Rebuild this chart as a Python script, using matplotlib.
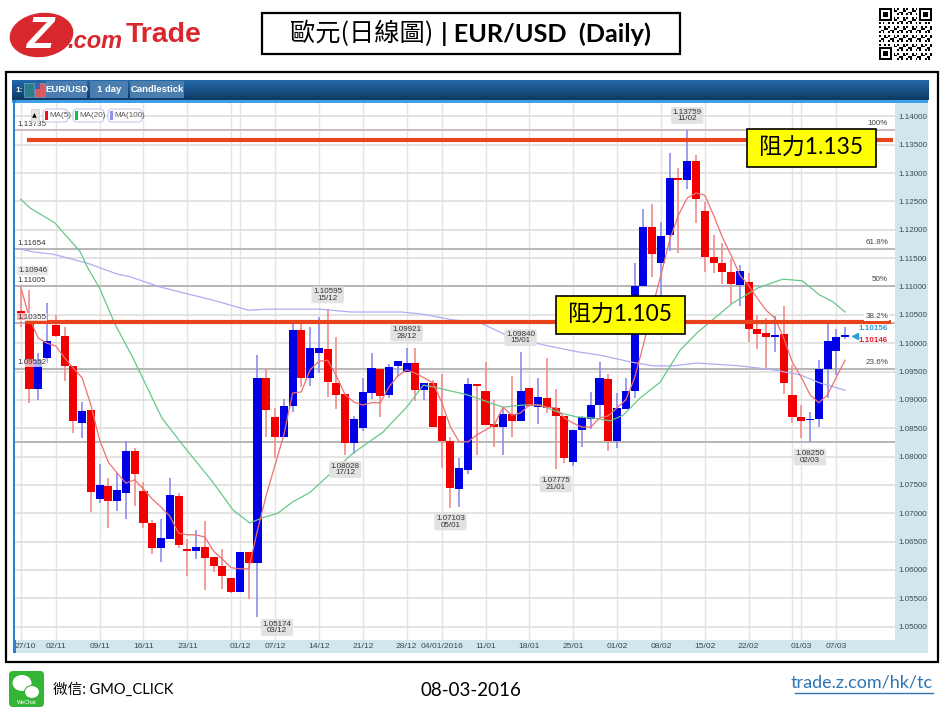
from matplotlib import pyplot as plt
from matplotlib.patches import Rectangle, FancyBboxPatch, Ellipse
from matplotlib.colors import LinearSegmentedColormap
from matplotlib.transforms import ScaledTranslation
import numpy as np

plt.rcParams['font.family'] = ['Liberation Sans', 'Noto Sans CJK TC', 'DejaVu Sans']

# daily candles, index 0 is 27/10
opens = [1.1056, 1.1041, 1.0919, 1.0974, 1.1032, 1.1013, 1.0960, 1.0860, 1.0882, 1.0725,
         1.0748, 1.0722, 1.0736, 1.0810, 1.0739, 1.0683, 1.0639, 1.0655, 1.0730, 1.0637,
         1.0633, 1.0640, 1.0623, 1.0607, 1.0586, 1.0561, 1.0632, 1.0612, 1.0939, 1.0870,
         1.0834, 1.0889, 1.1023, 1.0939, 1.0983, 1.0990, 1.0930, 1.0911, 1.0824, 1.0850,
         1.0912, 1.0954, 1.0909, 1.0960, 1.0949, 1.0965, 1.0917, 1.0930, 1.0872, 1.0827,
         1.0743, 1.0776, 1.0928, 1.0916, 1.0858, 1.0852, 1.0875, 1.0863, 1.0921, 1.0887,
         1.0903, 1.0886, 1.0872, 1.0790, 1.0847, 1.0866, 1.0891, 1.0937, 1.0827, 1.0884,
         1.0916, 1.1101, 1.1205, 1.1141, 1.1191, 1.1291, 1.1288, 1.1321, 1.1233, 1.1152,
         1.1141, 1.1125, 1.1102, 1.1108, 1.1025, 1.1018, 1.1011, 1.1016, 1.0909, 1.0870,
         1.0864, 1.0866, 1.0955, 1.0986, 1.1011]
highs = [1.1095, 1.1094, 1.0983, 1.1071, 1.1050, 1.1028, 1.0960, 1.0896, 1.0882, 1.0787,
         1.0762, 1.0771, 1.0827, 1.0815, 1.0755, 1.0688, 1.0690, 1.0762, 1.0736, 1.0655,
         1.0670, 1.0686, 1.0623, 1.0637, 1.0586, 1.0632, 1.0632, 1.0979, 1.0954, 1.0886,
         1.0902, 1.1041, 1.1035, 1.1028, 1.1046, 1.1060, 1.1011, 1.0911, 1.0872, 1.0939,
         1.0983, 1.0954, 1.0963, 1.0968, 1.0992, 1.0992, 1.0930, 1.0935, 1.0945, 1.0834,
         1.0798, 1.0939, 1.0928, 1.0966, 1.0900, 1.0887, 1.0942, 1.0984, 1.0921, 1.0939,
         1.0974, 1.0919, 1.0872, 1.0847, 1.0872, 1.0914, 1.0966, 1.0945, 1.0912, 1.0939,
         1.1141, 1.1237, 1.1246, 1.1214, 1.1336, 1.1309, 1.1376, 1.1332, 1.1249, 1.1191,
         1.1177, 1.1148, 1.1138, 1.1124, 1.1050, 1.1044, 1.1048, 1.1065, 1.0961, 1.0891,
         1.0879, 1.0970, 1.1041, 1.1025, 1.1028]
lows = [1.1028, 1.0895, 1.0900, 1.0965, 1.1011, 1.0933, 1.0841, 1.0833, 1.0702, 1.0718,
        1.0674, 1.0704, 1.0690, 1.0713, 1.0674, 1.0628, 1.0614, 1.0655, 1.0639, 1.0589,
        1.0619, 1.0565, 1.0596, 1.0566, 1.0559, 1.0561, 1.0549, 1.0517, 1.0834, 1.0797,
        1.0834, 1.0879, 1.0923, 1.0925, 1.0948, 1.0905, 1.0884, 1.0803, 1.0805, 1.0845,
        1.0902, 1.0870, 1.0903, 1.0942, 1.0949, 1.0898, 1.0900, 1.0852, 1.0780, 1.0710,
        1.0711, 1.0769, 1.0803, 1.0856, 1.0817, 1.0803, 1.0834, 1.0863, 1.0887, 1.0858,
        1.0877, 1.0778, 1.0789, 1.0783, 1.0817, 1.0849, 1.0870, 1.0810, 1.0815, 1.0884,
        1.0903, 1.1101, 1.1117, 1.1071, 1.1162, 1.1159, 1.1272, 1.1212, 1.1125, 1.1124,
        1.1104, 1.1069, 1.1065, 1.1002, 1.0990, 1.0956, 1.0985, 1.0911, 1.0859, 1.0833,
        1.0825, 1.0852, 1.0903, 1.0944, 1.1007]
closes = [1.1041, 1.0919, 1.0970, 1.1004, 1.1013, 1.0960, 1.0863, 1.0881, 1.0737, 1.0750,
          1.0722, 1.0741, 1.0810, 1.0769, 1.0683, 1.0639, 1.0656, 1.0732, 1.0644, 1.0633,
          1.0640, 1.0621, 1.0607, 1.0589, 1.0561, 1.0632, 1.0612, 1.0939, 1.0882, 1.0834,
          1.0889, 1.1023, 1.0939, 1.0992, 1.0992, 1.0932, 1.0909, 1.0824, 1.0866, 1.0914,
          1.0956, 1.0907, 1.0958, 1.0968, 1.0965, 1.0917, 1.0930, 1.0852, 1.0827, 1.0745,
          1.0780, 1.0928, 1.0925, 1.0856, 1.0852, 1.0875, 1.0863, 1.0916, 1.0889, 1.0905,
          1.0886, 1.0872, 1.0797, 1.0847, 1.0870, 1.0891, 1.0939, 1.0827, 1.0886, 1.0916,
          1.1101, 1.1205, 1.1157, 1.1189, 1.1291, 1.1288, 1.1321, 1.1254, 1.1152, 1.1141,
          1.1125, 1.1104, 1.1127, 1.1025, 1.1016, 1.1011, 1.1015, 1.0930, 1.0870, 1.0863,
          1.0866, 1.0955, 1.1004, 1.1011, 1.1014]

ma5 = [1.1099, 1.1044, 1.1009, 1.1000, 1.0995, 1.0974, 1.0956, 1.0939, 1.0891, 1.0829,
       1.0790, 1.0771, 1.0753, 1.0759, 1.0743, 1.0725, 1.0711, 1.0695, 1.0665, 1.0662,
       1.0662, 1.0658, 1.0633, 1.0619, 1.0604, 1.0602, 1.0602, 1.0670, 1.0732, 1.0785,
       1.0838, 1.0912, 1.0914, 1.0953, 1.0968, 1.0970, 1.0942, 1.0909, 1.0896, 1.0891,
       1.0895, 1.0895, 1.0923, 1.0942, 1.0953, 1.0947, 1.0939, 1.0930, 1.0896, 1.0852,
       1.0826, 1.0826, 1.0838, 1.0847, 1.0856, 1.0887, 1.0873, 1.0877, 1.0891, 1.0891,
       1.0887, 1.0886, 1.0868, 1.0859, 1.0852, 1.0852, 1.0868, 1.0872, 1.0886, 1.0900,
       1.0939, 1.0997, 1.1062, 1.1120, 1.1182, 1.1226, 1.1256, 1.1265, 1.1261, 1.1226,
       1.1187, 1.1155, 1.1120, 1.1102, 1.1079, 1.1058, 1.1044, 1.1009, 1.0966, 1.0940,
       1.0909, 1.0895, 1.0909, 1.0940, 1.0970]

ma20_idx = [0, 1.1, 3.9, 6.8, 7.6, 9, 10.8, 12.8, 16.1, 18.5,
            21.9, 24.2, 26.1, 27.6, 29.3, 31, 33, 34.9, 37.9, 41.3,
            44, 45.9, 47, 50.9, 53.5, 55, 57.3, 59.2, 61.5, 63.4,
            65.3, 67.2, 68.7, 70.6, 72.9, 75.2, 77.1, 81.2, 84, 86.9,
            89.1, 91.1, 92.6, 94]
ma20 = [1.1254, 1.1238, 1.1212, 1.1161, 1.1134, 1.1097, 1.1032, 1.0974, 1.0868, 1.0820,
        1.0755, 1.0706, 1.0683, 1.0692, 1.0700, 1.0720, 1.0737, 1.0764, 1.0806, 1.0843,
        1.0887, 1.0926, 1.0923, 1.0909, 1.0895, 1.0887, 1.0891, 1.0891, 1.0877, 1.0870,
        1.0868, 1.0863, 1.0873, 1.0903, 1.0931, 1.0988, 1.1018, 1.1071, 1.1097, 1.1113,
        1.1110, 1.1085, 1.1073, 1.1055]

ma100_idx = [0, 1.4, 3.7, 7.6, 11, 12.5, 15.9, 19, 21.9, 26,
             28.1, 34.1, 37.7, 43.4, 45.9, 49.3, 52.4, 55.8, 59.6, 63.4,
             66, 69.5, 72.1, 74.4, 77.1, 82, 85.8, 88.9, 91.1, 94]
ma100 = [1.1166, 1.1161, 1.1157, 1.1141, 1.1122, 1.1117, 1.1099, 1.1087, 1.1076, 1.1058,
         1.1060, 1.1060, 1.1055, 1.1055, 1.1051, 1.1041, 1.1036, 1.1011, 1.0997, 1.0985,
         1.0979, 1.0967, 1.0960, 1.0960, 1.0965, 1.0960, 1.0953, 1.0944, 1.0930, 1.0917]

date_idx = [0, 4, 9, 14, 19, 24, 25, 29, 34, 39, 44, 48, 53, 58, 63, 68, 73, 78, 83, 88, 89, 93]
date_labels = ['27/10', '02/11', '09/11', '16/11', '23/11', '', '01/12', '07/12', '14/12', '21/12',
               '28/12', '04/01/2016', '11/01', '18/01', '25/01', '01/02', '08/02', '15/02',
               '22/02', '', '01/03', '07/03']
price_ticks = [1.05, 1.055, 1.06, 1.065, 1.07, 1.075, 1.08, 1.085, 1.09, 1.095,
               1.10, 1.105, 1.11, 1.115, 1.12, 1.125, 1.13, 1.135, 1.14]

fib_levels = [1.13759, 1.11654, 1.11005, 1.10355, 1.09552]
fib_left = ['1.13735', '1.11654', '1.11005', '1.10355', '1.09552']
fib_right = ['100%', '61.8%', '50%', '38.2%', '23.6%']
low_level = 1.0825

resist_levels = [1.1358, 1.1037]
resist_labels = ['1.135', '1.105']

callout_idx = [76, 35, 44, 57, 37, 49, 61, 90]
callout_price = [1.13759, 1.10595, 1.09921, 1.09840, 1.08028, 1.07103, 1.07775, 1.08250]
callout_date = ['11/02', '15/12', '28/12', '15/01', '17/12', '05/01', '21/01', '02/03']

C_RED = '#f20000'
C_BLUE = '#0000e6'
W, H = 946, 711
SMALL = 5.8


def px_axes(zorder):
    # full figure axes in reference pixels, for the page furniture
    a = fig.add_axes([0, 0, 1, 1], zorder=zorder)
    a.set_xlim(0, W)
    a.set_ylim(H, 0)
    a.axis('off')
    return a


fig = plt.figure(figsize=(W / 100, H / 100), dpi=100, facecolor='white')
bg = px_axes(0)
fg = px_axes(5)

# frame and chart window
bg.add_patch(Rectangle((5.5, 71.5), 932, 590.5, fc='white', ec='black', lw=1.6))
head_cmap = LinearSegmentedColormap.from_list('head', ['#2468a8', '#0e3a64'])
grad = np.linspace(0, 1, 20).reshape(-1, 1)
bg.imshow(grad, extent=(12, 928, 100, 80), aspect='auto', cmap=head_cmap, zorder=1)
bg.set_xlim(0, W)
bg.set_ylim(H, 0)
bg.add_patch(Rectangle((12, 100), 916, 3, fc='#3f9fe8', ec='none', zorder=2))
bg.add_patch(Rectangle((13, 100), 2.5, 553, fc='#2f80d8', ec='none', zorder=2))
bg.add_patch(Rectangle((15, 103), 913, 550, fc='#d0e8ec', ec='none', zorder=1.5))

# window tabs
bg.text(15, 90, '1:', color='white', fontsize=6, fontweight='bold', va='center', zorder=3)
bg.add_patch(Rectangle((24, 83), 10, 14, fc='#2a7d8c', ec='#6fa8c8', lw=0.5, zorder=3))
bg.add_patch(Rectangle((35, 83), 10, 14, fc='#d85a60', ec='#6fa8c8', lw=0.5, zorder=3))
bg.add_patch(Rectangle((35, 83), 5, 6, fc='#4060b0', ec='none', zorder=3))
for tab_x, tab_w, tab_text in [(46, 41, 'EUR/USD'), (90, 38, '1 day'), (130, 54, 'Candlestick')]:
    bg.add_patch(Rectangle((tab_x, 81), tab_w, 17, fc='#4a7eae', ec='none', zorder=2.5))
    bg.text(tab_x + tab_w / 2, 89.5, tab_text, color='white', fontsize=6.8, fontweight='bold',
            ha='center', va='center', zorder=3)

ax = fig.add_axes([15 / W, 1 - 640 / H, 880 / W, 537 / H], zorder=2, facecolor='white')
ax.set_xlim(-0.65, 99.69)
ax.set_ylim(1.04765, 1.14236)
ax.set_axisbelow(True)
ax.grid(True, axis='y', color='#dedede', lw=1.2)
ax.grid(True, axis='x', color='#e4e4e4', lw=1.0)
for s in ax.spines.values():
    s.set_visible(False)
ax.yaxis.tick_right()
ax.set_yticks(price_ticks)
ax.set_yticklabels(['%.5f' % p for p in price_ticks])
ax.set_xticks(date_idx)
ax.set_xticklabels(date_labels)
ax.tick_params(axis='y', length=0, pad=2.5, labelsize=SMALL, labelcolor='#3a4a50')
ax.tick_params(axis='x', length=0, pad=2.5, labelsize=SMALL + 0.3, labelcolor='#3a4a50')
first = ax.get_xticklabels()[0]
first.set_transform(first.get_transform() + ScaledTranslation(3.5 / 72, 0, fig.dpi_scale_trans))

# fibonacci levels
for k, lvl in enumerate(fib_levels):
    ax.axhline(lvl, color='#c9bcc9' if k == 0 else '#b6b6b6', lw=1.4, zorder=1.5)
    ax.text(-0.42, lvl + 0.00105, fib_left[k], fontsize=SMALL, color='#333333', va='center', zorder=6,
            bbox=dict(fc='white', ec='none', alpha=0.7, pad=0.4))
    ax.text(98.9, lvl + 0.00115, fib_right[k], fontsize=SMALL, color='#444444', va='center', ha='right',
            zorder=6, bbox=dict(fc='white', ec='none', pad=0.8))
ax.axhline(low_level, color='#b6b6b6', lw=1.4, zorder=1.5)
ax.annotate('1.10946', xy=(-0.3, highs[0]), xytext=(0, 13.4), textcoords='offset points', fontsize=SMALL,
            color='#333333', va='center', zorder=6,
            bbox=dict(boxstyle='round,pad=0.15', fc='#e6e6e6', ec='none', alpha=0.9))

# candles
idx = np.arange(len(opens))
o = np.array(opens)
c = np.array(closes)
up = c >= o
ax.vlines(idx[up], np.array(lows)[up], np.array(highs)[up], color='#8c8cf0', lw=1.2, zorder=2)
ax.vlines(idx[~up], np.array(lows)[~up], np.array(highs)[~up], color='#f58a8a', lw=1.2, zorder=2)
ax.bar(idx[up], (c - o)[up], bottom=o[up], width=0.92, color=C_BLUE, zorder=3)
ax.bar(idx[~up], (o - c)[~up], bottom=c[~up], width=0.92, color=C_RED, zorder=3)

# moving averages
ax.plot(ma100_idx, ma100, color='#aeaef4', lw=0.9, zorder=4)
ax.plot(ma20_idx, ma20, color='#68c888', lw=0.9, zorder=4)
ax.plot(idx, ma5, color='#ee7070', lw=0.9, zorder=4)

# resistance lines
ax.plot([0.7, 99.5], [resist_levels[0]] * 2, color='#e8431a', lw=3.0, zorder=5, solid_capstyle='butt')
ax.plot([0.5, 99.2], [resist_levels[1]] * 2, color='#e8431a', lw=3.0, zorder=5, solid_capstyle='butt')

# high / low callouts
box = dict(boxstyle='round,pad=0.2', fc='#e2e2e2', ec='none')
for i, p, d in zip(callout_idx, callout_price, callout_date):
    above = p > opens[i] and p > closes[i]
    ax.annotate('%.5f\n%s' % (p, d), xy=(i, p), xytext=(0, 10.5 if above else -10.5),
                textcoords='offset points', ha='center', va='center', fontsize=SMALL, color='#333333',
                linespacing=0.9, bbox=box, zorder=6)
ax.annotate('1.05174\n03/12', xy=(27, lows[27]), xytext=(14, -7.5), textcoords='offset points',
            ha='center', va='center', fontsize=SMALL, color='#333333', linespacing=0.9, bbox=box, zorder=6)

# current bid / ask
ax.plot([95.1], [1.1012], marker='<', ms=4.5, color='#2a9fd6', zorder=6)
ax.annotate('1.10156', xy=(98.9, 1.10156), xytext=(0, 4), textcoords='offset points', ha='right',
            va='center', fontsize=SMALL, fontweight='bold', color='#2a9fd6', zorder=6)
ax.annotate('1.10146', xy=(98.9, 1.10146), xytext=(0, -4), textcoords='offset points', ha='right',
            va='center', fontsize=SMALL, fontweight='bold', color='#e8202a', zorder=6)

# MA legend chips
fg.add_patch(Rectangle((31, 109), 7.5, 13, fc='#e6e6e6', ec='#cccccc', lw=0.5))
fg.text(34.8, 115.5, '▲', fontsize=4.5, ha='center', va='center', color='black', family='DejaVu Sans')
for chip_x, chip_w, chip_col, chip_text in [(42, 27, '#f01010', 'MA(5)'), (72, 33, '#10c040', 'MA(20)'),
                                            (107, 36, '#9090f0', 'MA(100)')]:
    fg.add_patch(FancyBboxPatch((chip_x + 1, 109), chip_w - 2, 13, boxstyle='round,pad=0,rounding_size=4',
                                fc='white', ec='#c4cce8', lw=0.8))
    fg.add_patch(Rectangle((chip_x + 2.5, 111), 3.5, 9, fc=chip_col, ec='none'))
    fg.text(chip_x + 7, 115.5, chip_text, fontsize=SMALL, color='#555555', va='center')

# yellow resistance boxes
for (bx, by), lab in zip([(747, 128.5), (555.5, 295.5)], resist_labels):
    fg.add_patch(Rectangle((bx, by), 129, 38.5, fc='#ffff00', ec='black', lw=1.2))
    fg.text(bx + 64.5, by + 20, '阻力' + lab, fontsize=16.5, ha='center', va='center', color='black',
            family=['Lato', 'Noto Sans CJK TC'])

# title
fg.add_patch(Rectangle((262, 12.5), 418, 41, fc='white', ec='black', lw=1.6))
fg.text(290, 33.5, '歐元(日線圖)', fontsize=18.2, va='center', color='black', family=['Noto Sans CJK TC'])
fg.text(441, 33.5, '| EUR/USD  (Daily)', fontsize=18.2, va='center', fontweight='bold', color='black',
        family=['Lato', 'Noto Sans CJK TC'])

# Z.com logo
fg.add_patch(Ellipse((41.5, 35), 64, 44, angle=-8, fc='#d9272e', ec='none'))
fg.text(40, 36, 'Z', fontsize=32, fontweight='bold', style='italic', color='white', ha='center', va='center')
fg.text(67, 41, '.com', fontsize=17, fontweight='bold', style='italic', color='#d9272e', va='center')
fg.text(126, 35.5, 'Trade', fontsize=20.5, fontweight='bold', color='#d9272e', va='center')

# QR code block, only a look-alike pattern
qr_size = 29
qr = np.zeros((qr_size, qr_size))
for r in range(qr_size):
    for q in range(qr_size):
        qr[r, q] = (r * r * 3 + q * q * 5 + r * q * 7 + r + 2 * q) % 5 < 2
for r0, q0 in [(0, 0), (0, qr_size - 7), (qr_size - 7, 0)]:
    qr[max(r0 - 1, 0):r0 + 8, max(q0 - 1, 0):q0 + 8] = 0
    qr[r0:r0 + 7, q0:q0 + 7] = 1
    qr[r0 + 1:r0 + 6, q0 + 1:q0 + 6] = 0
    qr[r0 + 2:r0 + 5, q0 + 2:q0 + 5] = 1
qr_ax = fig.add_axes([879 / W, 1 - 60 / H, 53 / W, 52 / H], zorder=6)
qr_ax.imshow(qr, cmap='gray_r', interpolation='nearest', aspect='auto')
qr_ax.axis('off')

# footer
fg.add_patch(FancyBboxPatch((9, 671), 35, 36, boxstyle='round,pad=0,rounding_size=4', fc='#35b535', ec='none'))
fg.add_patch(Ellipse((22, 683), 19, 16, fc='white', ec='none'))
fg.add_patch(Ellipse((32, 692), 15, 13, fc='white', ec='#35b535', lw=0.8))
fg.text(26.5, 703, 'WeChat', fontsize=4, color='white', ha='center', va='center')
fg.text(53, 690, '微信: GMO_CLICK', fontsize=10.5, va='center', color='black', family=['Lato', 'Noto Sans CJK TC'])
fg.text(471, 690, '08-03-2016', fontsize=13.5, ha='center', va='center', color='black', family=['Lato'])
fg.text(933, 683, 'trade.z.com/hk/tc', fontsize=13, ha='right', va='center', color='#2e75b6', family=['Lato'])
fg.plot([795, 933], [693, 693], color='#2e75b6', lw=1)

plt.savefig('out.png', dpi=100)
